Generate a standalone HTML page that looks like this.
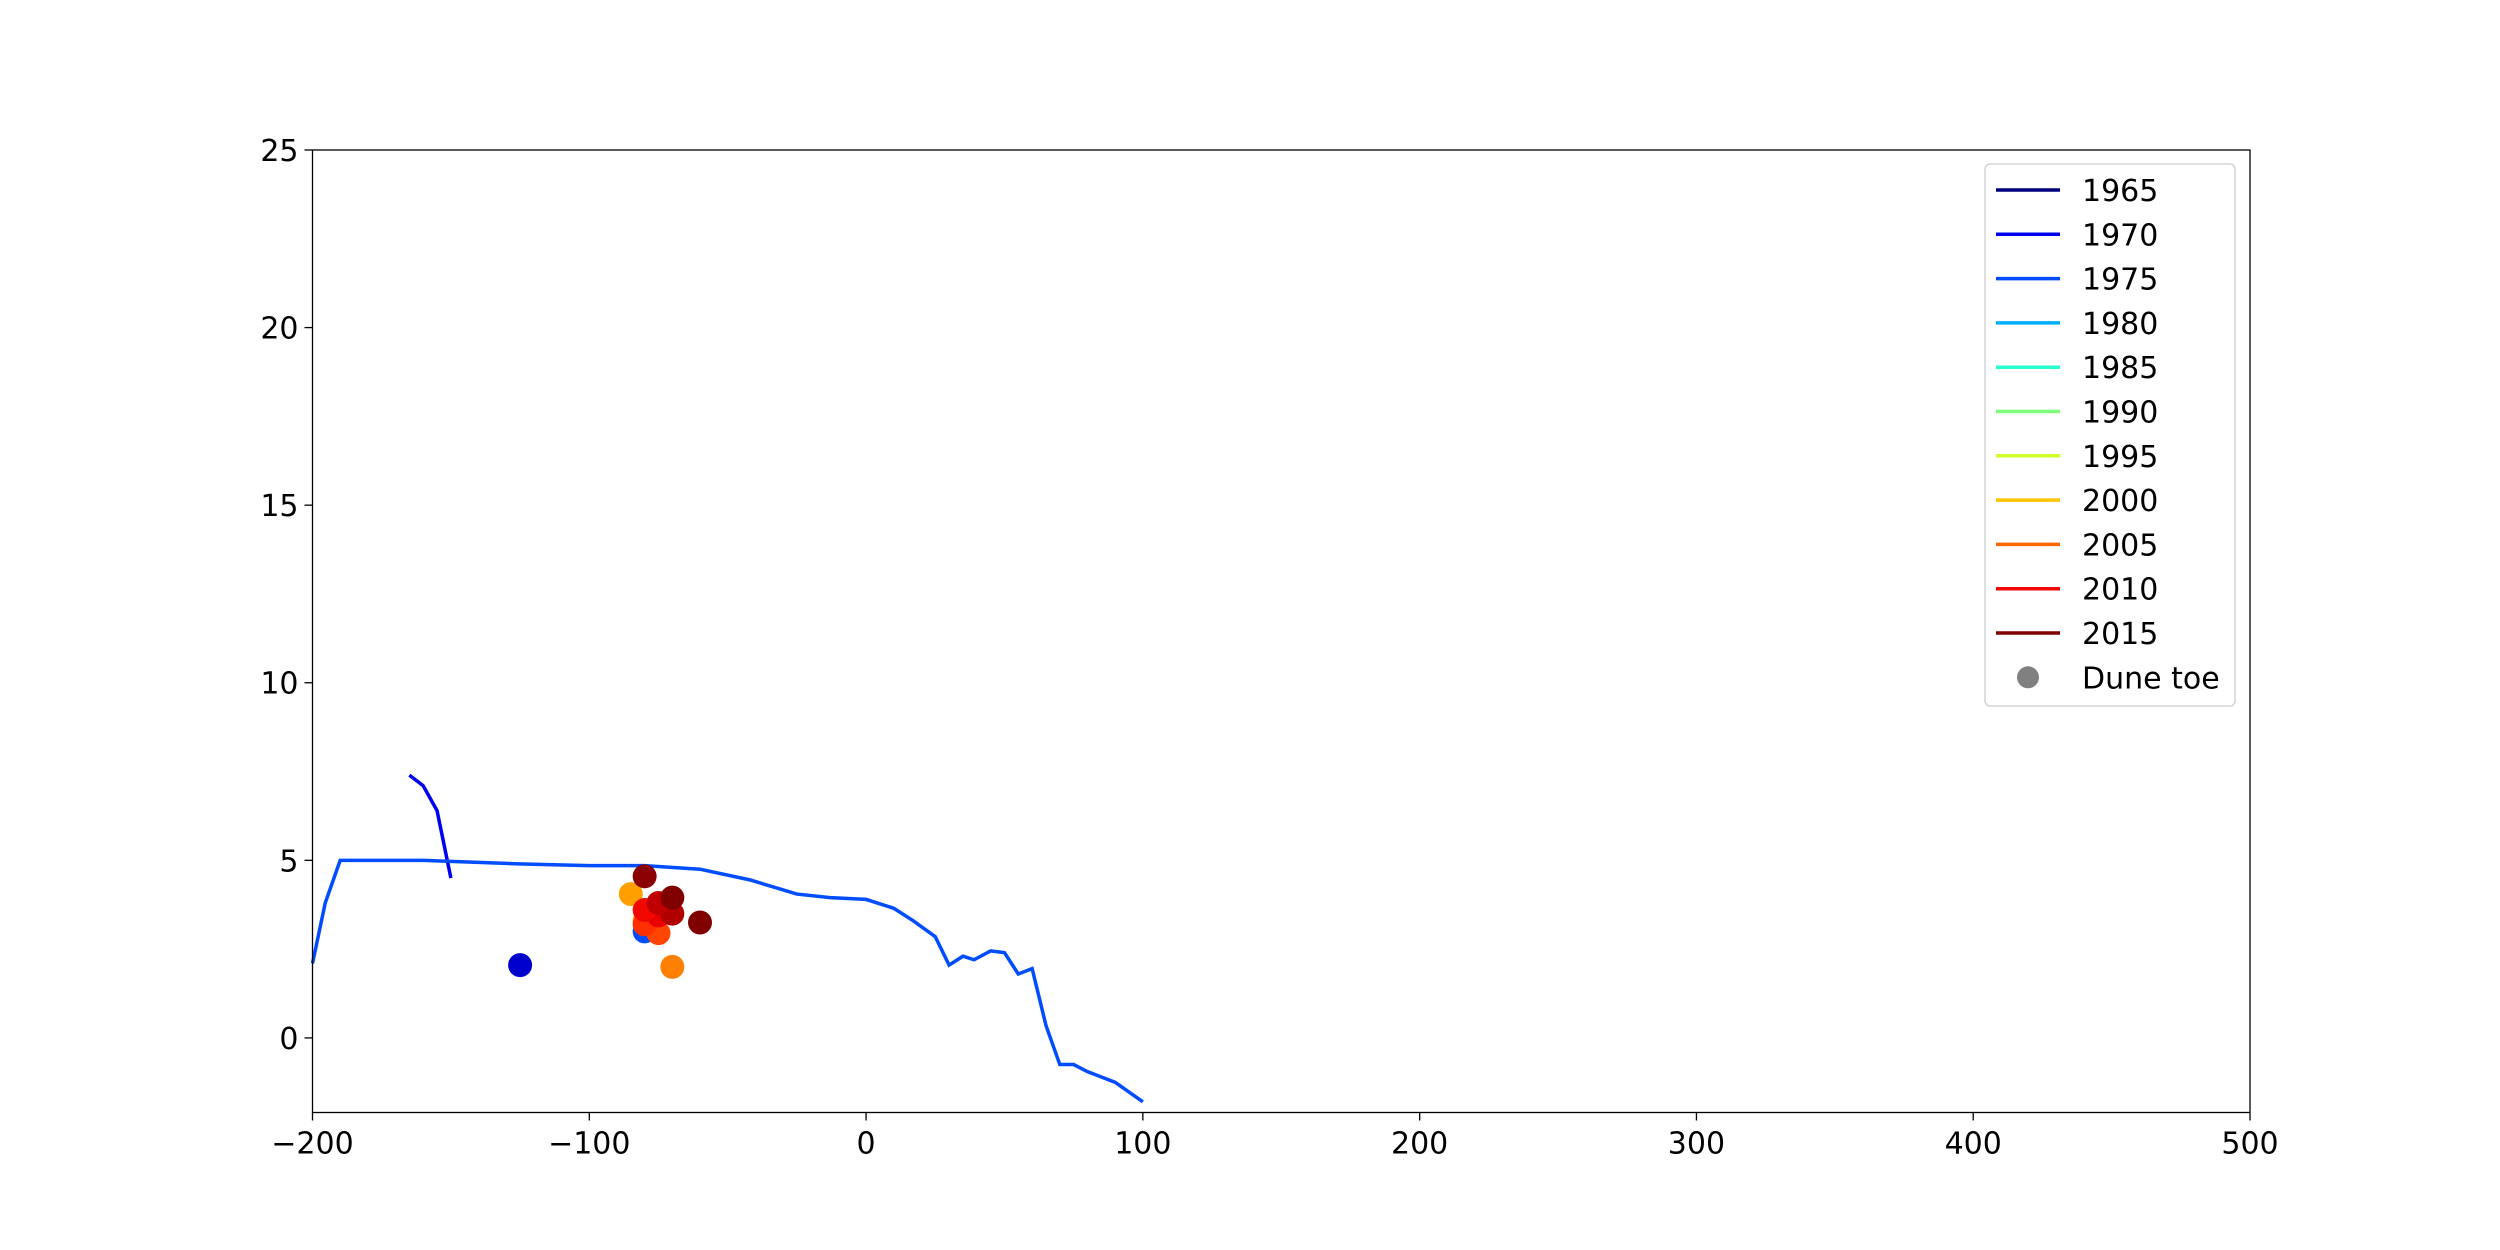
<!DOCTYPE html>
<html><head><meta charset="utf-8"><style>
html,body{margin:0;padding:0;background:#fff;}
svg{display:block;font-family:"DejaVu Sans","Liberation Sans",sans-serif;}
</style></head><body>
<svg id="chart" width="2500" height="1250" viewBox="0 0 2500 1250" xmlns="http://www.w3.org/2000/svg">
<rect width="2500" height="1250" fill="#fff"/>
<g id="plot"></g>
<rect x="312.5" y="150" width="1937.5" height="962.5" fill="none" stroke="#000" stroke-width="1.3"/>
<g id="xticks"></g><g id="yticks"></g><g id="legend"></g>
</svg>
<script>
const xTicks=[-200,-100,0,100,200,300,400,500];
const yTicks=[0,5,10,15,20,25];
const years=["1965","1970","1975","1980","1985","1990","1995","2000","2005","2010","2015"];
const yearColors=["#00007f","#0000f1","#004cff","#00b0ff","#29ffce","#7dff7a","#ceff29","#ffc400","#ff6800","#f10800","#7f0000"];
const line1970x=[-165,-160,-155,-150];
const line1970y=[7.4,7.1,6.4,4.5];
const line1975x=[-200,-195.4,-190,-160,-125.6,-100,-80,-60,-42,-25,-13,0,10,17,25,30,35,39,45,50,55,60,65,70,75,80,90,100];
const line1975y=[2.1,3.8,5.0,5.0,4.9,4.85,4.85,4.75,4.45,4.05,3.95,3.9,3.65,3.3,2.85,2.05,2.3,2.2,2.45,2.4,1.8,1.95,0.35,-0.75,-0.75,-0.95,-1.25,-1.8];
const toeX=[-125,-80,-80,-85,-75,-70,-80,-75,-70,-80,-80,-75,-70,-60];
const toeY=[2.05,3.0,3.3,4.05,2.95,2.0,3.2,3.45,3.5,3.6,4.55,3.8,3.95,3.25];
const toeColors=["#0000cc","#004cff","#ffa000","#ffa000","#ff4500","#ff8000","#ff3000","#e80000","#b00000","#f10800","#8b0000","#c00000","#800000","#800000"];
const NS="http://www.w3.org/2000/svg";
const X0=312.5,X1=2250,Y0=1112.5,Y1=150,xmin=-200,xmax=500,ymin=-2.1,ymax=25;
const sx=v=>X0+(v-xmin)/(xmax-xmin)*(X1-X0);
const sy=v=>Y0-(v-ymin)/(ymax-ymin)*(Y0-Y1);
function mk(t,a,p){const e=document.createElementNS(NS,t);for(const k in a)e.setAttribute(k,a[k]);p.appendChild(e);return e;}
const plot=document.getElementById('plot');
function pts(xs,ys){return xs.map((x,i)=>sx(x)+','+sy(ys[i])).join(' ');}
let l=mk('polyline',{points:pts(line1970x,line1970y),fill:'none',stroke:yearColors[1],'stroke-width':3.5},plot);


l=mk('polyline',{points:pts(line1975x,line1975y),fill:'none',stroke:yearColors[2],'stroke-width':3.5},plot);


toeX.forEach((x,i)=>{const c=mk('circle',{cx:sx(x),cy:sy(toeY[i]),r:12,fill:toeColors[i]},plot);

});
const xt=document.getElementById('xticks');
xTicks.forEach(v=>{mk('line',{x1:sx(v),x2:sx(v),y1:Y0,y2:Y0+8,stroke:'#000','stroke-width':1.3},xt);
const t=mk('text',{x:sx(v),y:Y0+41,'font-size':30,'text-anchor':'middle'},xt);t.textContent=(v<0?'\u2212'+(-v):v);

});
const yt=document.getElementById('yticks');
yTicks.forEach(v=>{mk('line',{x1:X0-8,x2:X0,y1:sy(v),y2:sy(v),stroke:'#000','stroke-width':1.3},yt);
const t=mk('text',{x:X0-14,y:sy(v)+11,'font-size':30,'text-anchor':'end'},yt);t.textContent=v;

});
const lg=document.getElementById('legend');
const box=mk('rect',{x:1985,y:164,width:250,height:542,rx:5,fill:'#fff','fill-opacity':0.8,stroke:'#ccc','stroke-width':1.3},lg);


years.forEach((y,i)=>{const cy=190+i*44.3;
mk('line',{x1:1996,x2:2060,y1:cy,y2:cy,stroke:yearColors[i],'stroke-width':3.5},lg);
const t=mk('text',{x:2082,y:cy+11,'font-size':30},lg);t.textContent=y;

});
const cyD=190+11*44.3;
mk('circle',{cx:2028,cy:cyD,r:11,fill:'#808080'},lg);
const td=mk('text',{x:2082,y:cyD+11,'font-size':30},lg);td.textContent='Dune toe';


</script>
</body></html>
